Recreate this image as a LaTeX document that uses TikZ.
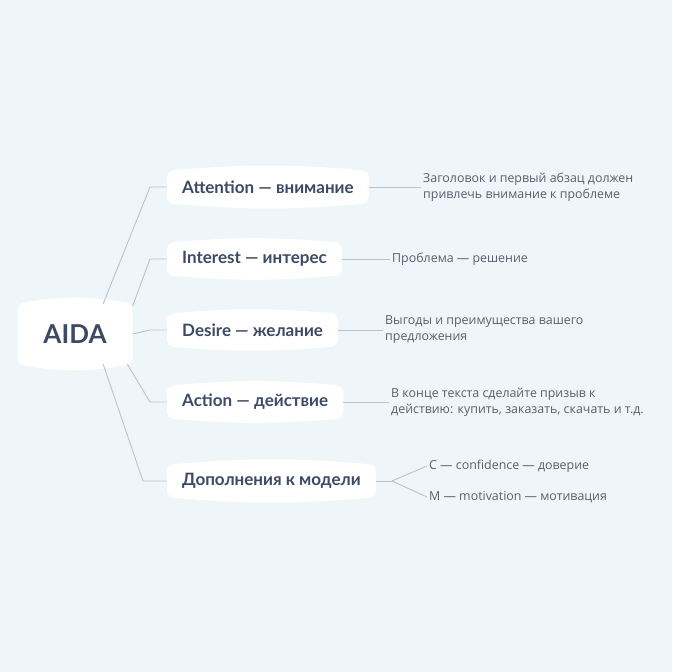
\documentclass[tikz,border=0pt]{standalone}
\usepackage{fontspec}
\setmainfont{Open Sans}
\newfontfamily\headf{Lato}
\usetikzlibrary{calc,backgrounds}
\definecolor{bgc}{HTML}{EEF6FA}
\definecolor{inkc}{HTML}{3D4A63}
\definecolor{leafc}{HTML}{56606E}
\definecolor{linec}{HTML}{B7C4CD}
\tikzset{
  hub/.style={font=\headf\bfseries\fontsize{26}{30}\selectfont,text=inkc,minimum width=115pt,minimum height=60pt,inner sep=0pt},
  topic/.style={font=\headf\bfseries\fontsize{17}{20}\selectfont,text=inkc,inner xsep=15pt,minimum height=32pt,anchor=west},
  leaf/.style={font=\fontsize{12.4}{16}\selectfont,text=leafc,align=left,anchor=west,inner sep=2pt},
  ln/.style={linec,line width=0.9pt}
}
\newcommand{\bub}[2]{\fill[white,rounded corners=7pt] (#1.south west) -- (#1.north west) to[bend left=#2] (#1.north east) -- (#1.south east) to[bend left=#2] (#1.south west) -- cycle;}

\begin{document}
\begin{tikzpicture}[x=1pt,y=-1pt]
\node[hub] (aida) at (75,334) {AIDA};
\node[topic] (att) at (167,187) {Attention — внимание};
\node[topic] (intr) at (167,259) {Interest — интерес};
\node[topic] (des) at (167,330) {Desire — желание};
\node[topic] (act) at (167,402) {Action — действие};
\node[topic] (ext) at (167,481) {Дополнения к модели};
\node[leaf] (attl) at (421,187) {Заголовок и первый абзац должен\\привлечь внимание к проблеме};
\node[leaf] (intrl) at (390,259) {Проблема — решение};
\node[leaf] (desl) at (383,330) {Выгоды и преимущества вашего\\предложения};
\node[leaf] (actl) at (389,402) {В конце текста сделайте призыв к\\действию: купить, заказать, скачать и т.д.};
\node[leaf] (extc) at (427,466) {C — confidence — доверие};
\node[leaf] (extm) at (427,497) {M — motivation — мотивация};
\coordinate (fork) at (392,481);
\begin{pgfonlayer}{background}
\fill[bgc] (0,0) rectangle (672,672);
\bub{aida}{10}
\foreach \n in {att,intr,des,act,ext} {\bub{\n}{5}}
\end{pgfonlayer}
\draw[ln] (aida.47) -- ([xshift=-17pt]att.west) -- (att.west);
\draw[ln] (aida.26) -- ([xshift=-17pt]intr.west) -- (intr.west);
\draw[ln] (aida.east) -- ([xshift=-17pt]des.west) -- (des.west);
\draw[ln] (aida.-30) -- ([xshift=-17pt]act.west) -- (act.west);
\draw[ln] (aida.-47) -- ([xshift=-24pt]ext.west) -- (ext.west);
\draw[ln] (att.east) -- (attl.west);
\draw[ln] (intr.east) -- (intrl.west);
\draw[ln] (des.east) -- (desl.west);
\draw[ln] (act.east) -- (actl.west);
\draw[ln] (ext.east) -- (fork);
\draw[ln] (fork) -- (extc.west);
\draw[ln] (fork) -- (extm.west);
\end{tikzpicture}
\end{document}
